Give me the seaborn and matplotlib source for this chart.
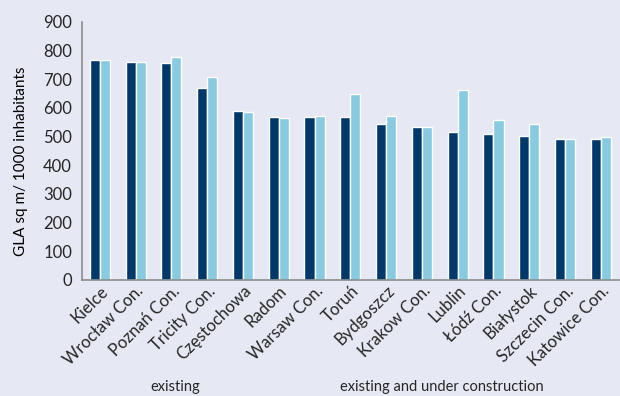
import pandas as pd
import seaborn as sns
import matplotlib.pyplot as plt
from matplotlib.patches import Patch
from matplotlib.ticker import FixedLocator

cities = ["Kielce", "Wrocław Con.", "Poznań Con.", "Tricity Con.", "Częstochowa",
          "Radom", "Warsaw Con.", "Toruń", "Bydgoszcz", "Krakow Con.", "Lublin",
          "Łódź Con.", "Białystok", "Szczecin Con.", "Katowice Con."]
existing = [768, 760, 757, 669, 588, 567, 567, 567, 545, 534, 517, 510, 503, 491, 491]
with_construction = [766, 760, 777, 707, 587, 566, 570, 647, 572, 534, 662, 556, 545, 491, 498]
series_names = ["existing", "existing and under construction"]

data = pd.DataFrame({
    "City": cities * 2,
    "GLA": existing + with_construction,
    "Series": [series_names[0]] * len(cities) + [series_names[1]] * len(cities),
})

bg = "#e6e9f3"
dark = "#00386a"
light = "#88cae0"
axis_grey = "#8c8c8c"

sns.set_style("white")
plt.rcParams["font.family"] = ["Lato", "DejaVu Sans"]

fig = plt.figure(figsize=(6.2, 3.96), dpi=100, facecolor=bg)
ax = fig.add_axes([0.132, 0.293, 0.866, 0.652])
ax.set_facecolor(bg)

sns.barplot(data=data, x="City", y="GLA", hue="Series", order=cities,
            palette=[dark, light], width=0.56, gap=0, saturation=1,
            legend=False, ax=ax)

ax.set_ylim(0, 900)
ax.set_yticks(range(0, 901, 100))
ax.set_xlim(-0.5, len(cities) - 0.5)
ax.set_xlabel("")
ax.set_ylabel("GLA sq m/ 1000 inhabitants", fontsize=11, color="black")
ax.yaxis.set_label_coords(-0.1, 0.46)

for side in ["top", "right"]:
    ax.spines[side].set_visible(False)
for side in ["left", "bottom"]:
    ax.spines[side].set_color(axis_grey)
    ax.spines[side].set_linewidth(1.2)

ax.tick_params(axis="y", length=4, width=1, color=axis_grey, labelsize=12, pad=3)
ax.tick_params(axis="x", which="major", length=0, labelsize=12, pad=2)
ax.xaxis.set_minor_locator(FixedLocator([i - 0.5 for i in range(len(cities) + 1)]))
ax.tick_params(axis="x", which="minor", length=4, width=1, color=axis_grey)
plt.setp(ax.get_xticklabels(), rotation=45, ha="right", rotation_mode="anchor")

handles = [Patch(facecolor="none", edgecolor="none") for _ in series_names]
fig.legend(handles, series_names, loc="center", bbox_to_anchor=(0.559, 0.022),
           ncol=2, frameon=False, handlelength=0, handletextpad=0,
           columnspacing=9.6, fontsize=10.5)

fig.savefig("out.png", dpi=100, facecolor=bg)
